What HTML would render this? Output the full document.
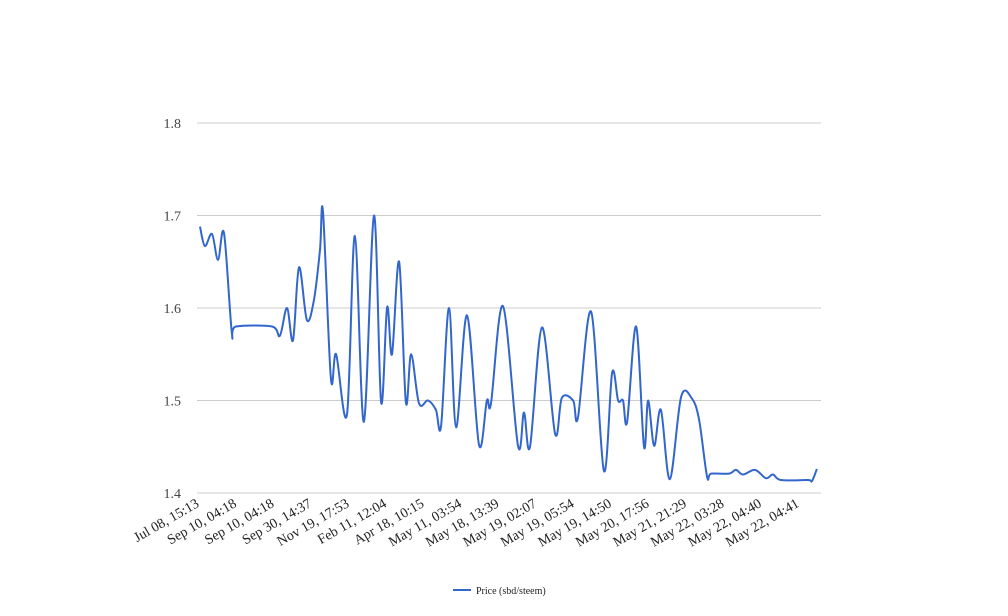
<!DOCTYPE html>
<html><head><meta charset="utf-8"><style>
html,body{margin:0;padding:0;background:#fff;}
svg{display:block;font-family:"Liberation Serif","DejaVu Serif",serif;}
</style></head><body>
<svg id="chart" width="1008" height="616" viewBox="0 0 1008 616" xmlns="http://www.w3.org/2000/svg">
<g id="grid"></g>
<g id="yticks"></g>
<g id="xticks"></g>
<path id="line" fill="none" stroke="#3366cc" stroke-width="2"/>
<g>
<line x1="453" y1="590" x2="471" y2="590" stroke="#3366cc" stroke-width="2"/>
<text x="476" y="594" font-size="10" fill="#222">Price (sbd/steem)</text>
</g>
</svg>
<script>
const xLabels = ["Jul 08, 15:13","Sep 10, 04:18","Sep 10, 04:18","Sep 30, 14:37","Nov 19, 17:53","Feb 11, 12:04","Apr 18, 10:15","May 11, 03:54","May 18, 13:39","May 19, 02:07","May 19, 05:54","May 19, 14:50","May 20, 17:56","May 21, 21:29","May 22, 03:28","May 22, 04:40","May 22, 04:41"];
const yTicks = [1.4,1.5,1.6,1.7,1.8];
const times = [0,.13,.32,.48,.64,.85,.96,1.92,2.13,2.32,2.48,2.64,2.85,3.04,3.2,3.28,3.49,3.63,3.92,4.13,4.37,4.64,4.83,4.99,5.12,5.31,5.49,5.63,5.84,6.08,6.29,6.43,6.64,6.83,7.12,7.44,7.65,7.76,8.08,8.48,8.64,8.8,9.12,9.47,9.65,9.95,10.08,10.43,10.77,10.99,11.15,11.28,11.39,11.63,11.84,11.95,12.11,12.29,12.53,12.83,13.12,13.31,13.52,13.63,14.11,14.29,14.48,14.8,15.09,15.28,15.49,16.21,16.32,16.45];
const prices = [1.688,1.667,1.680,1.652,1.681,1.573,1.580,1.580,1.570,1.600,1.565,1.644,1.587,1.609,1.663,1.704,1.524,1.550,1.485,1.678,1.477,1.700,1.498,1.601,1.550,1.650,1.498,1.550,1.497,1.500,1.490,1.473,1.600,1.471,1.592,1.452,1.500,1.497,1.602,1.451,1.487,1.450,1.579,1.464,1.503,1.500,1.482,1.596,1.424,1.530,1.500,1.500,1.477,1.580,1.450,1.500,1.451,1.490,1.415,1.504,1.502,1.479,1.418,1.421,1.421,1.425,1.420,1.425,1.416,1.420,1.414,1.414,1.413,1.426];
const NS="http://www.w3.org/2000/svg";
function xScale(t){return 200+t*37.5;}
function yScale(v){return 493-(v-1.4)*925;}
const grid=document.getElementById('grid'), yt=document.getElementById('yticks'), xt=document.getElementById('xticks');
yTicks.forEach(v=>{
  const l=document.createElementNS(NS,'line');
  
  
  l.setAttribute('x1',197);l.setAttribute('x2',821);
  l.setAttribute('y1',yScale(v));l.setAttribute('y2',yScale(v));
  l.setAttribute('stroke','#cccccc');l.setAttribute('stroke-width','1');
  grid.appendChild(l);
  const t=document.createElementNS(NS,'text');
  
  
  t.setAttribute('x',181);t.setAttribute('y',yScale(v)+5);
  t.setAttribute('text-anchor','end');t.setAttribute('font-size','14');t.setAttribute('fill','#444');
  t.textContent=v.toFixed(1);
  yt.appendChild(t);
});
xLabels.forEach((s,i)=>{
  const x=xScale(i), y=506;
  const t=document.createElementNS(NS,'text');
  
  
  t.setAttribute('x',x);t.setAttribute('y',y);
  t.setAttribute('text-anchor','end');t.setAttribute('font-size','14');t.setAttribute('fill','#222');
  t.setAttribute('transform','rotate(-30 '+x+' '+y+')');
  t.textContent=s;
  xt.appendChild(t);
});
const pts=times.map((t,i)=>[xScale(t),yScale(prices[i])]);
let d='M'+pts[0][0]+','+pts[0][1];
for(let i=0;i<pts.length-1;i++){
  const p0=pts[Math.max(0,i-1)],p1=pts[i],p2=pts[i+1],p3=pts[Math.min(pts.length-1,i+2)];
  const k=1/6;
  const c1=[p1[0]+(p2[0]-p0[0])*k,p1[1]+(p2[1]-p0[1])*k];
  const c2=[p2[0]-(p3[0]-p1[0])*k,p2[1]-(p3[1]-p1[1])*k];
  d+=' C'+c1[0]+','+c1[1]+' '+c2[0]+','+c2[1]+' '+p2[0]+','+p2[1];
}
document.getElementById('line').setAttribute('d',d);
</script>
</body></html>
